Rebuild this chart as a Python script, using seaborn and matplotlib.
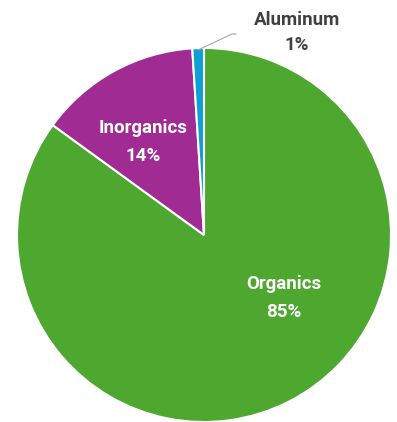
import matplotlib
matplotlib.use("Agg")
import matplotlib.pyplot as plt
import seaborn as sns

categories = ["Organics", "Inorganics", "Aluminum"]
values = [85, 14, 1]
colors = ["#4EA72E", "#A02B93", "#0F9ED5"]

sns.set_theme(style="white")
plt.rcParams['font.family'] = ['Roboto', 'DejaVu Sans']

fig = plt.figure(figsize=(3.97, 4.22), dpi=100)
ax = fig.add_axes([0, 0, 1, 1])
H = 422
cx, cy, r = 204, H - 235, 187
ax.pie(values, colors=colors, startangle=90, counterclock=False,
       center=(cx, cy), radius=r,
       wedgeprops=dict(edgecolor="white", linewidth=1.5))
ax.set_xlim(0, 397)
ax.set_ylim(0, H)
ax.set_aspect("equal")
ax.axis("off")

fs = 13.5
ax.text(284, H - 284, categories[0], color="white", fontsize=fs, fontweight="bold", ha="center", va="center")
ax.text(284, H - 312, f"{values[0]}%", color="white", fontsize=fs, fontweight="bold", ha="center", va="center")
ax.text(143, H - 128, categories[1], color="white", fontsize=fs, fontweight="bold", ha="center", va="center")
ax.text(143, H - 156, f"{values[1]}%", color="white", fontsize=fs, fontweight="bold", ha="center", va="center")
ax.text(297, H - 20, categories[2], color="#404040", fontsize=fs, fontweight="bold", ha="center", va="center")
ax.text(297, H - 45, f"{values[2]}%", color="#404040", fontsize=fs, fontweight="bold", ha="center", va="center")
ax.plot([198, 232, 236], [H - 50, H - 34, H - 34], color="#A6A6A6", linewidth=0.8)

fig.savefig("out.png", dpi=100)
